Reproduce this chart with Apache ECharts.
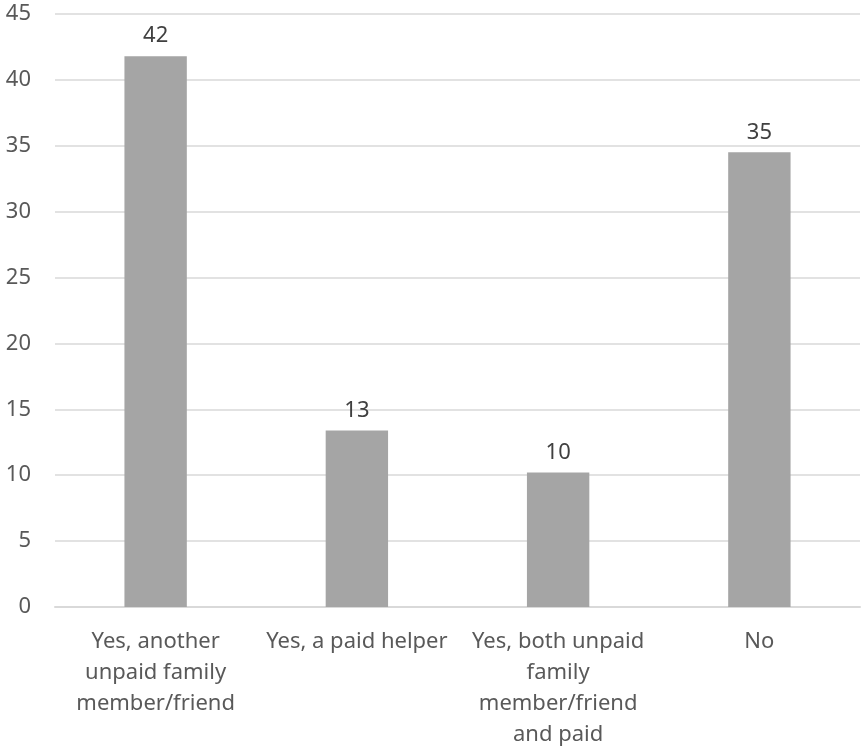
<!DOCTYPE html>
<html>
<head>
<meta charset="utf-8">
<script src="https://cdn.jsdelivr.net/npm/echarts@6/dist/echarts.min.js"></script>
<style>html,body{margin:0;padding:0;background:#fff;}#c{width:865px;height:751px;}</style>
</head>
<body>
<div id="c"></div>
<script>
var categories = ['Yes, another\nunpaid family\nmember/friend', 'Yes, a paid helper', 'Yes, both unpaid\nfamily\nmember/friend\nand paid', 'No'];
var values = [41.8, 13.4, 10.2, 34.5];
var yMin = 0, yMax = 45, yInterval = 5;

var FONT = 'Noto Sans';
var chart = echarts.init(document.getElementById('c'));
chart.setOption({
  animation: false,
  backgroundColor: '#ffffff',
  textStyle: { fontFamily: FONT },
  grid: { left: 55, right: 5, top: 14, bottom: 144, containLabel: false },
  xAxis: {
    type: 'category',
    data: categories,
    axisLine: { lineStyle: { color: '#d9d9d9', width: 2 } },
    axisTick: { show: false },
    axisLabel: { color: '#595959', fontSize: 22, lineHeight: 31, margin: 19, interval: 0, fontFamily: FONT }
  },
  yAxis: {
    type: 'value',
    min: yMin, max: yMax, interval: yInterval,
    axisLine: { show: false },
    axisTick: { show: false },
    splitLine: { lineStyle: { color: '#d9d9d9', width: 1.5 } },
    axisLabel: { color: '#595959', fontSize: 22, margin: 24, fontFamily: FONT }
  },
  series: [{
    type: 'bar',
    data: values,
    barWidth: '31%',
    itemStyle: { color: '#a5a5a5' },
    label: {
      show: true, position: 'top', distance: 9,
      color: '#404040', fontSize: 22, fontFamily: FONT,
      formatter: function (p) { return Math.round(p.value); }
    }
  }]
});
</script>
</body>
</html>
